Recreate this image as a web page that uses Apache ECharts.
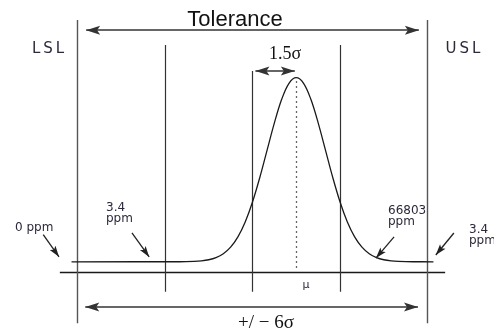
<!DOCTYPE html>
<html>
<head>
<meta charset="utf-8">
<title>Six Sigma tolerance</title>
<script src="https://cdn.jsdelivr.net/npm/echarts@6/dist/echarts.min.js"></script>
<style>
  html, body { margin: 0; padding: 0; background: #fff; }
  #chart { width: 494px; height: 334px; }
</style>
</head>
<body>
<div id="chart"></div>
<script>
// Positions along the process axis, in sigma units from the nominal centre
const specLimits = [-6, 6];            // LSL, USL
const specLabels = ['LSL', 'USL'];
const threeSigma = [-3, 3];            // ±3σ about nominal
const nominal = 0;
const meanShift = 1.5;                 // long-term drift of the process mean

// Shifted process distribution: position and density height
const curveX = [-6.2, -2.5, -2, -1.75, -1.5, -1.25, -1, -0.75, -0.5, -0.25, 0, 0.25, 0.5, 0.75, 1, 1.25,
                1.5, 1.75, 2, 2.25, 2.5, 2.75, 3, 3.25, 3.5, 3.75, 4, 4.25, 4.5, 4.75, 5, 5.5, 6.2];
const curveY = [0, 0.0001, 0.0009, 0.002, 0.0044, 0.0091, 0.0175, 0.0317, 0.054, 0.0863, 0.1295, 0.1826, 0.242, 0.3011, 0.3521, 0.3867,
                0.3989, 0.3867, 0.3521, 0.3011, 0.242, 0.1826, 0.1295, 0.0863, 0.054, 0.0317, 0.0175, 0.0091, 0.0044, 0.002, 0.0009, 0.0001, 0];

// Defect rates called out at the tails
const ppmLabels = ['0 ppm', '3.4\nppm', '66803\nppm', '3.4\nppm'];

// ---- drawing ----
const LINE = '#555';
const INK = '#1a1a1a';
const LABEL = '#2a2a3a';

// Filled arrowhead whose tip sits at the centre of its square box
const arrowHead = 'path://M-14,0 M14,28 M0,14 L4.5,28 L0,25 L-4.5,28 Z';

function segments(list) {
  return list.map(c => ({ coords: c }));
}

// vertical extents of the reference lines (in density units)
const limitTop = 0.524, limitBottom = -0.133;
const innerTop = 0.47, innerBottom = -0.065;
const nominalTop = 0.4135;
const axisY = -0.0221;

const limitLines = specLimits.map(x => [[x, limitBottom], [x, limitTop]]);
const innerLines = threeSigma.map(x => [[x, innerBottom], [x, innerTop]])
  .concat([[[nominal, innerBottom], [nominal, nominalTop]]]);

// double-headed dimension arrows
const dimArrows = [
  [[specLimits[0] + 0.3, 0.502], [specLimits[1] - 0.3, 0.502]],   // Tolerance
  [[specLimits[0] + 0.27, -0.098], [specLimits[1] - 0.33, -0.098]], // ±6σ
  [[nominal + 0.1, nominalTop], [meanShift - 0.05, nominalTop]]     // 1.5σ shift
];

// pointers from the ppm callouts to the curve tails
const pointers = [
  [[-7.17, 0.0586], [-6.63, 0.0108]],
  [[-4.13, 0.0624], [-3.54, 0.0104]],
  [[4.85, 0.054], [4.23, 0.008]],
  [[6.9, 0.0624], [6.28, 0.0147]]
];

const ppmPos = [
  { x: 15, y: 222, align: 'left' },
  { x: 106, y: 202.5, align: 'left' },
  { x: 388, y: 205, align: 'left' },
  { x: 469, y: 224, align: 'left' }
];
const specLabelPos = [{ x: 48, y: 49 }, { x: 463, y: 49 }];

const chart = echarts.init(document.getElementById('chart'), null, { renderer: 'canvas' });

const graphic = [
  { type: 'text', x: 235, y: 20, style: { text: 'Tolerance', fontSize: 22, fontFamily: '"Liberation Sans", Arial', fill: '#111', align: 'center', verticalAlign: 'middle' } },
  { type: 'text', x: 285, y: 54, style: { text: '1.5σ', fontSize: 18, fontFamily: '"Liberation Serif", "Times New Roman"', fill: '#111', align: 'center', verticalAlign: 'middle' } },
  { type: 'text', x: 266, y: 323, style: { text: '+/ − 6σ', fontSize: 19, fontFamily: '"Liberation Serif", "Times New Roman"', fill: '#111', align: 'center', verticalAlign: 'middle' } },
  { type: 'text', x: 306, y: 285, style: { text: 'μ', fontSize: 11, fontFamily: '"DejaVu Sans"', fill: LABEL, align: 'center', verticalAlign: 'middle' } }
];
specLabels.forEach((t, i) => {
  graphic.push({ type: 'text', x: specLabelPos[i].x, y: specLabelPos[i].y,
    style: { text: t.split('').join('\u2009'), fontSize: 15, fontFamily: '"DejaVu Sans"', fill: LABEL, align: 'center', verticalAlign: 'middle' } });
});
ppmLabels.forEach((t, i) => {
  graphic.push({ type: 'text', x: ppmPos[i].x, y: ppmPos[i].y,
    style: { text: t, fontSize: 12, lineHeight: 11, fontFamily: '"DejaVu Sans"', fill: LABEL, align: ppmPos[i].align, verticalAlign: 'top' } });
});

chart.setOption({
  animation: false,
  backgroundColor: '#fff',
  grid: { left: 19, right: 8, top: 8, bottom: 3 },
  xAxis: { type: 'value', min: -8, max: 8, show: false },
  yAxis: { type: 'value', min: -0.15, max: 0.55, show: false },
  graphic: graphic,
  series: [
    { // process axis
      type: 'lines', coordinateSystem: 'cartesian2d', silent: true, z: 2,
      lineStyle: { color: INK, width: 1.3, opacity: 1 },
      data: segments([[[-6.6, axisY], [6.6, axisY]]])
    },
    { // LSL / USL
      type: 'lines', coordinateSystem: 'cartesian2d', silent: true, z: 2,
      lineStyle: { color: LINE, width: 1.4, opacity: 1 },
      data: segments(limitLines)
    },
    { // ±3σ and nominal
      type: 'lines', coordinateSystem: 'cartesian2d', silent: true, z: 2,
      lineStyle: { color: '#333', width: 1.2, opacity: 1 },
      data: segments(innerLines)
    },
    { // process mean
      type: 'lines', coordinateSystem: 'cartesian2d', silent: true, z: 2,
      lineStyle: { color: '#666', width: 1.3, type: [2, 3], opacity: 1 },
      data: segments([[[meanShift, -0.0134], [meanShift, 0.395]]])
    },
    { // distribution curve
      type: 'line', silent: true, z: 3,
      showSymbol: false, smooth: 0.35,
      lineStyle: { color: INK, width: 1.3 },
      data: curveX.map((x, i) => [x, curveY[i]])
    },
    { // dimension arrows
      type: 'lines', coordinateSystem: 'cartesian2d', silent: true, z: 4,
      symbol: [arrowHead, arrowHead], symbolSize: 28,
      lineStyle: { color: '#333', width: 1.6, opacity: 1 },
      data: segments(dimArrows)
    },
    { // ppm pointers
      type: 'lines', coordinateSystem: 'cartesian2d', silent: true, z: 4,
      symbol: ['none', arrowHead], symbolSize: 22,
      lineStyle: { color: '#222', width: 1.3, opacity: 1 },
      data: segments(pointers)
    }
  ]
});
</script>
</body>
</html>
